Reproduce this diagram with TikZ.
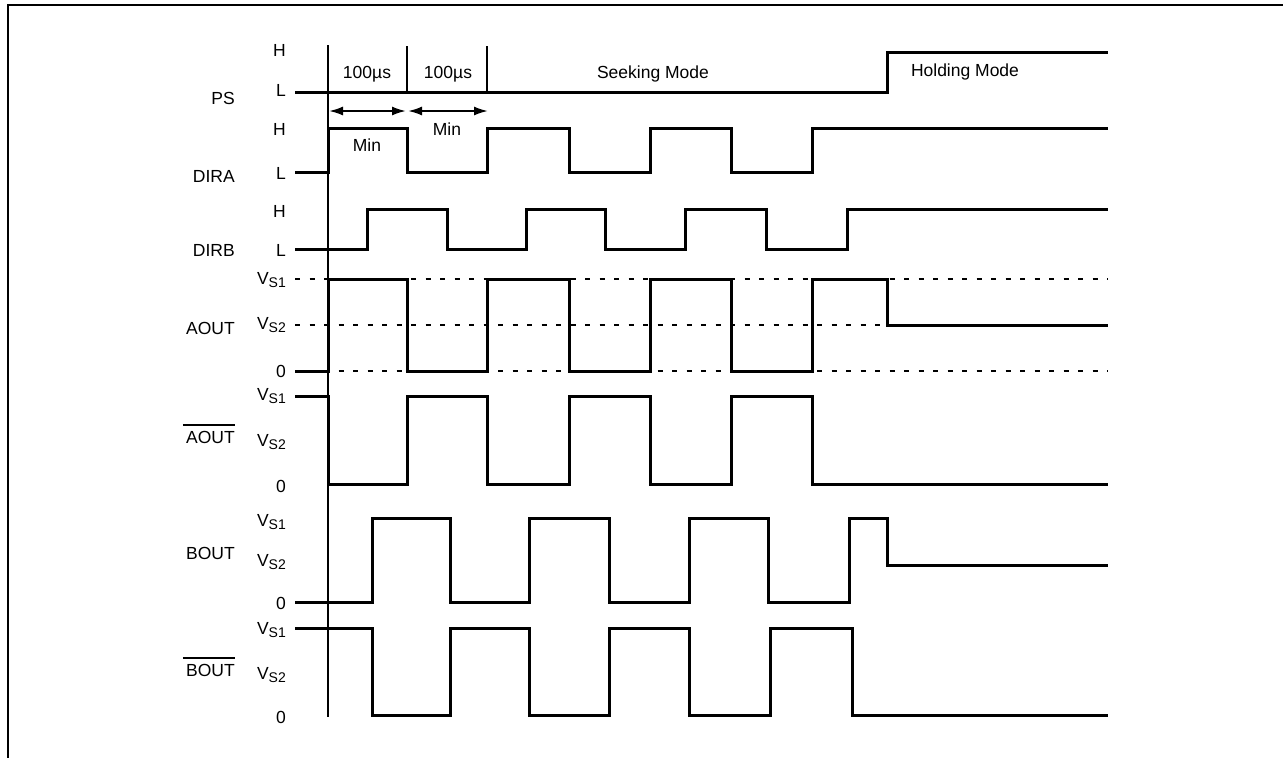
\documentclass[tikz,border=0pt]{standalone}
\usepackage{fontspec}
\setmainfont{Liberation Sans}
\usetikzlibrary{arrows.meta}

\newcommand{\vsub}[1]{V\raisebox{-3.5pt}{\fontsize{14}{14}\selectfont S#1}}

\tikzset{
  wave/.style={line width=3pt},
  level/.style={line width=2.2pt, dash pattern=on 5pt off 9.5pt},
  marker/.style={line width=2.4pt},
  lvl/.style={anchor=east, inner sep=0pt},
  sig/.style={anchor=east, inner sep=0pt},
  txt/.style={inner sep=0pt},
  dim/.style={line width=2pt, {Latex[length=14pt,width=9pt]}-{Latex[length=14pt,width=9pt]}},
}

\begin{document}
\begin{tikzpicture}[x=1pt,y=-1pt,font=\fontsize{17.5}{20}\selectfont]
  \useasboundingbox (0,0) rectangle (1283,758);
  \draw[line width=2.6pt] (8,758) -- (8,5) -- (1283,5);

  % time markers
  \coordinate (m0) at (328,111);
  \coordinate (m1) at (407,111);
  \coordinate (m2) at (487,111);
  \draw[marker] (328,45) -- (328,717);
  \draw[marker] (407,46) -- (407,92);
  \draw[marker] (487,46) -- (487,92);
  \draw[dim] ([xshift=1pt]m0) -- ([xshift=-1pt]m1);
  \draw[dim] ([xshift=1pt]m1) -- ([xshift=1pt]m2);

  \node[txt] (usa) at (367,74) {100µs};
  \node[txt] (usb) at (448,74) {100µs};
  \node[txt] (mina) at (367,145) {Min};
  \node[txt] (minb) at (447,129) {Min};
  \node[txt] (seek) at (653,74) {Seeking Mode};
  \node[txt] (hold) at (965,72) {Holding Mode};

  % signal names
  \foreach \y/\t/\n in {98/PS/sPS, 176/DIRA/sDIRA, 250/DIRB/sDIRB, 328/AOUT/sAOUT,
      437/AOUT/sAOUTb, 553/BOUT/sBOUT, 670/BOUT/sBOUTb}
    \node[sig] (\n) at (235,\y) {\t};
  \draw[line width=1.8pt] ([xshift=-3pt,yshift=6pt]sAOUTb.north west) -- ([yshift=6pt]sAOUTb.north east);
  \draw[line width=1.8pt] ([xshift=-3pt,yshift=6pt]sBOUTb.north west) -- ([yshift=6pt]sBOUTb.north east);

  % levels
  \foreach \y/\t/\n in {50/H/a1, 90/L/a0, 129/H/b1, 173/L/b0, 211/H/c1, 250/L/c0,
      371/0/d0, 486/0/e0, 603/0/f0, 717/0/g0}
    \node[lvl] (\n) at (286,\y) {\t};
  \foreach \y/\t/\n in {280/1/d1, 325/2/d2, 396/1/e1, 442/2/e2,
      522/1/f1, 562/2/f2, 630/1/g1, 675/2/g2}
    \node[lvl] (\n) at (286,\y) {\vsub{\t}};

  \foreach \y in {279,325,371}
    \draw[level] (295,\y) -- (1108,\y);

  % waveforms
  \draw[wave] (295,92) -| (887,52) -- (1108,52);
  \draw[wave] (295,172) -| (328,128) -| (407,172) -| (487,128) -| (569,172)
    -| (650,128) -| (731,172) -| (812,128) -- (1108,128);
  \draw[wave] (295,249) -| (367,209) -| (447,249) -| (526,209) -| (605,249)
    -| (685,209) -| (766,249) -| (847,209) -- (1108,209);
  \draw[wave] (295,371) -| (328,279) -| (407,371) -| (487,279) -| (569,371)
    -| (650,279) -| (731,371) -| (812,279) -| (887,325) -- (1108,325);
  \draw[wave] (295,396) -| (328,484) -| (407,396) -| (487,484) -| (569,396)
    -| (650,484) -| (731,396) -| (812,484) -- (1108,484);
  \draw[wave] (295,602) -| (372,518) -| (450,602) -| (529,518) -| (609,602)
    -| (689,518) -| (768,602) -| (849,518) -| (887,565) -- (1108,565);
  \draw[wave] (295,628) -| (372,715) -| (450,628) -| (529,715) -| (609,628)
    -| (689,715) -| (770,628) -| (852,715) -- (1108,715);
\end{tikzpicture}
\end{document}
